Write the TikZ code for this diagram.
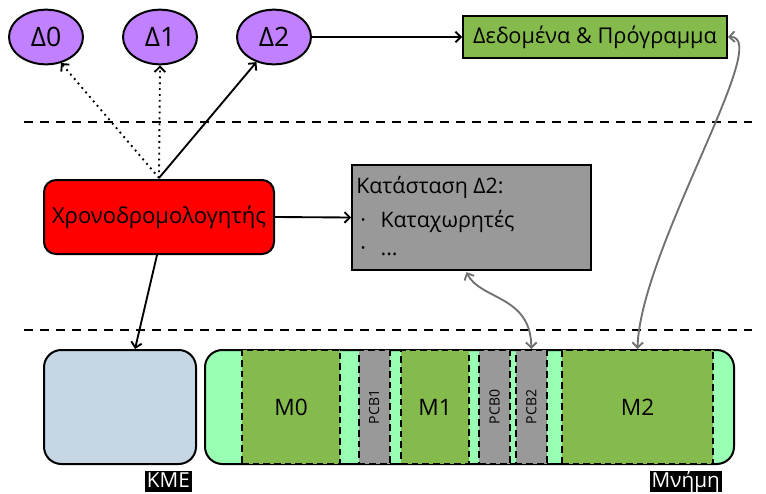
\documentclass[tikz,border=0pt]{standalone}
\usepackage{fontspec}
\setmainfont{Open Sans}
\usetikzlibrary{arrows.meta,shapes.geometric,calc}
\definecolor{purp}{HTML}{C080FF}
\definecolor{dgreen}{HTML}{84BB4C}
\definecolor{lgreen}{HTML}{99FFB3}
\definecolor{kblue}{HTML}{C5D7E5}
\definecolor{gbox}{HTML}{999999}
\definecolor{garrow}{HTML}{707070}
\tikzset{
  thread/.style={ellipse,draw,line width=1.5pt,fill=purp,minimum width=55.5pt,minimum height=41pt,inner sep=0pt,font=\fontsize{20}{22}\selectfont},
  arr/.style={-{Straight Barb[length=4pt,width=8pt]},line width=1.4pt},
  darr/.style={arr,dash pattern=on 1.4pt off 3pt},
  garr/.style={{Straight Barb[length=4pt,width=8pt]}-{Straight Barb[length=4pt,width=8pt]},line width=1.4pt,draw=garrow},
  sep/.style={line width=1.5pt,dash pattern=on 7pt off 5pt},
  seg/.style={draw,line width=1.5pt,dash pattern=on 5pt off 3pt,inner sep=0pt,minimum height=85.5pt},
  lab/.style={fill=black,text=white,inner xsep=1.5pt,inner ysep=0.4pt,text height=12.2pt,text depth=2.6pt,font=\fontsize{15.5}{17}\selectfont},
}
\begin{document}
\begin{tikzpicture}[x=0.75pt,y=-0.75pt]
\useasboundingbox (0,0) rectangle (766,493);
% threads
\node[thread] (d0) at (46,37) {Δ0};
\node[thread] (d1) at (160,37) {Δ1};
\node[thread] (d2) at (274,37) {Δ2};
\node[draw,line width=1.5pt,fill=dgreen,minimum width=198pt,minimum height=31.5pt,inner sep=0pt,font=\fontsize{16.3}{18}\selectfont] (data) at (595,37) {Δεδομένα \& Πρόγραμμα};
% separators
\coordinate (s1a) at (24,122); \coordinate (s1b) at (752,122);
\coordinate (s2a) at (24,330); \coordinate (s2b) at (752,330);
\draw[sep] (s1a) -- (s1b);
\draw[sep] (s2a) -- (s2b);
% scheduler
\node[draw,line width=1.5pt,fill=red,rounded corners=9pt,minimum width=172.5pt,minimum height=55.5pt,inner sep=0pt,font=\fontsize{16.5}{18}\selectfont] (sch) at (159,217) {Χρονοδρομολογητής};
% state
\node[draw,line width=1.5pt,fill=gbox,minimum width=179pt,minimum height=79pt,inner sep=0pt] (st) at (471.5,217.5) {};
\node[anchor=base west,inner sep=0pt,font=\fontsize{16}{18}\selectfont] (st1) at (356,193) {Κατάσταση Δ2:};
\node[anchor=base west,inner sep=0pt,font=\fontsize{16}{18}\selectfont] (st2) at (360,227) {·\hspace{11pt}Καταχωρητές};
\node[anchor=base west,inner sep=0pt,font=\fontsize{16}{18}\selectfont] (st3) at (360,255) {·\hspace{11pt}...};
% CPU
\node[draw,line width=1.5pt,fill=kblue,rounded corners=13pt,minimum width=114pt,minimum height=85.5pt,inner sep=0pt] (kme) at (120,407) {};
\node[lab,anchor=south east] (kmel) at (192,492) {KME};
% memory
\node[draw,line width=1.5pt,fill=lgreen,rounded corners=13pt,minimum width=396.75pt,minimum height=85.5pt,inner sep=0pt] (mem) at (469.5,407) {};
\node[seg,fill=dgreen,minimum width=73.5pt,font=\fontsize{17}{18}\selectfont] (m0) at (291,407) {M0};
\node[seg,fill=gbox,minimum width=23.25pt,font=\fontsize{10.5}{12}\selectfont] (pcb1) at (374,407) {\rotatebox{90}{PCB1}};
\node[seg,fill=dgreen,minimum width=51pt,font=\fontsize{17}{18}\selectfont] (m1) at (435,407) {M1};
\node[seg,fill=gbox,minimum width=23.25pt,font=\fontsize{10.5}{12}\selectfont] (pcb0) at (494.5,407) {\rotatebox{90}{PCB0}};
\node[seg,fill=gbox,minimum width=23.25pt,font=\fontsize{10.5}{12}\selectfont] (pcb2) at (531.3,407) {\rotatebox{90}{PCB2}};
\node[seg,fill=dgreen,minimum width=113.25pt,font=\fontsize{17}{18}\selectfont] (m2) at (637.5,407) {M2};
\node[lab,anchor=south east] (meml) at (722,492) {Μνήμη};
% connectors
\coordinate (top) at (159,178);
\draw[darr] (top) -- (d0.-60);
\draw[darr] (top) -- (d1.south);
\draw[arr] (top) -- (d2.-125);
\draw[arr] (d2.east) -- (data.west);
\draw[arr] (sch.east) -- (st.west);
\draw[arr] ($(sch.south)+(-2,0)$) -- ($(kme.north)+(15,0)$);
\draw[garr] ($(st.south)+(-5,1)$) .. controls (480,300) and (531,295) .. (pcb2.north);
\draw[garr] (data.east) .. controls (775,35) and (640,250) .. (m2.north);
\end{tikzpicture}
\end{document}
